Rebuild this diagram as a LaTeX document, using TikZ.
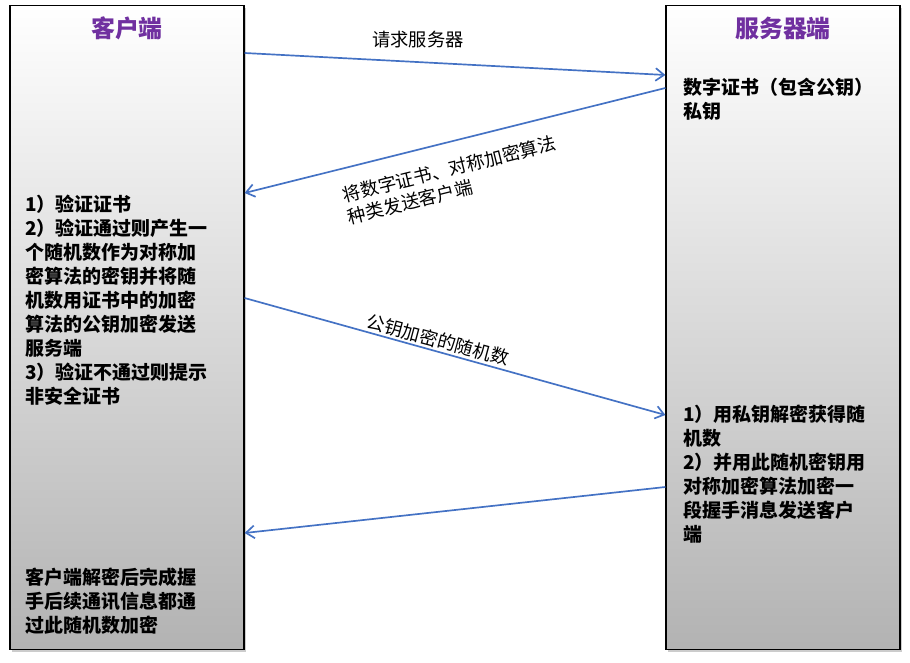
\documentclass[tikz,border=0pt]{standalone}
\usepackage{fontspec}
\newfontfamily\cjk{Noto Sans CJK SC}
\usetikzlibrary{arrows.meta,shadows}
\definecolor{titlepurple}{RGB}{112,48,160}
\definecolor{arrowblue}{RGB}{68,114,196}
\tikzset{
  sidebox/.style={draw=black, thick, minimum width=5.85cm, minimum height=16.1cm,
    top color=white, bottom color=black!30, drop shadow={shadow xshift=1.5pt, shadow yshift=-1.5pt, opacity=.4}},
  boxtitle/.style={font=\cjk\bfseries\fontsize{17}{20}\selectfont, text=titlepurple},
  boxtext/.style={font=\cjk\bfseries\fontsize{13.5}{17}\selectfont, align=left, anchor=north west, inner sep=0pt},
  msg/.style={draw=arrowblue, line width=1.2pt, -{Straight Barb[length=6pt,width=9pt]}},
  msglabel/.style={font=\cjk\fontsize{13}{16}\selectfont, align=left, inner sep=1pt}
}
\begin{document}
\begin{tikzpicture}[x=0.025cm, y=-0.025cm]
	\useasboundingbox (0,0) rectangle (910,663);
	\node (client) [sidebox] at (127,327.5) {};
	\node (server) [sidebox] at (783,327.5) {};
	\node (clienttitle) [boxtitle] at (127,28) {客户端};
	\node (servertitle) [boxtitle] at (783,28) {服务器端};

	\node (cert) [boxtext] at (683,78) {数字证书（包含公钥）\\私钥};
	\node (verify) [boxtext] at (25,195) {1）验证证书\\2）验证通过则产生一\\个随机数作为对称加\\密算法的密钥并将随\\机数用证书中的加密\\算法的公钥加密发送\\服务端\\3）验证不通过则提示\\非安全证书};
	\node (decrypt) [boxtext] at (683,405) {1）用私钥解密获得随\\机数\\2）并用此随机密钥用\\对称加密算法加密一\\段握手消息发送客户\\端};
	\node (done) [boxtext] at (25,568) {客户端解密后完成握\\手后续通讯信息都通\\过此随机数加密};

	% connector ends on the box borders
	\coordinate (c1) at (client.east |- 0,53);
	\coordinate (s1) at (server.west |- 0,75);
	\coordinate (s2) at (server.west |- 0,88);
	\coordinate (c2) at (client.east |- 0,193);
	\coordinate (c3) at (client.east |- 0,298);
	\coordinate (s3) at (server.west |- 0,415);
	\coordinate (s4) at (server.west |- 0,487);
	\coordinate (c4) at (client.east |- 0,533);

	\draw [msg] (c1) -- (s1);
	\draw [msg] (s2) -- (c2);
	\draw [msg] (c3) -- (s3);
	\draw [msg] (s4) -- (c4);

	\node (req) [msglabel] at (418,40) {请求服务器};
	\node (send) [msglabel, rotate=14] at (452,180) {将数字证书、对称加密算法\\种类发送客户端};
	\node (key) [msglabel, rotate=-15] at (438,340) {公钥加密的随机数};
\end{tikzpicture}
\end{document}
